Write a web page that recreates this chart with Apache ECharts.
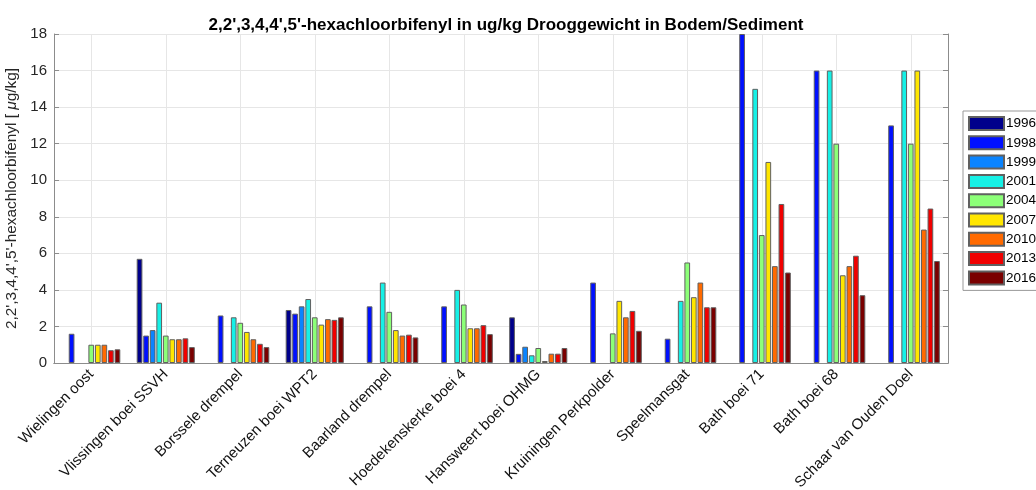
<!DOCTYPE html>
<html>
<head>
<meta charset="utf-8">
<script src="https://cdn.jsdelivr.net/npm/echarts@6/dist/echarts.min.js"></script>
<style>
    html, body { margin: 0; padding: 0; background: #fff; }
    #chart { width: 1036px; height: 490px; }
</style>
</head>
<body>
<div id="chart"></div>
<script>
// 测量点和年份
var locaties = ['Wielingen oost', 'Vlissingen boei SSVH', 'Borssele drempel', 'Terneuzen boei WPT2',
    'Baarland drempel', 'Hoedekenskerke boei 4', 'Hansweert boei OHMG', 'Kruiningen Perkpolder',
    'Speelmansgat', 'Bath boei 71', 'Bath boei 68', 'Schaar van Ouden Doel'];
var jaren = ['1996', '1998', '1999', '2001', '2004', '2007', '2010', '2013', '2016'];

// 每年的数值 (ug/kg)
var v1996 = [null, 5.7, null, 2.9, null, null, 2.5, null, null, null, null, null];
var v1998 = [1.6, 1.5, 2.6, 2.7, 3.1, 3.1, 0.5, 4.4, 1.33, 18, 16, 13];
var v1999 = [null, 1.8, null, 3.1, null, null, 0.89, null, null, null, null, null];
var v2001 = [null, 3.3, 2.5, 3.5, 4.4, 4.0, 0.42, null, 3.4, 15, 16, 16];
var v2004 = [1.0, 1.5, 2.2, 2.5, 2.8, 3.2, 0.82, 1.62, 5.5, 7.0, 12, 12];
var v2007 = [1.0, 1.3, 1.7, 2.1, 1.8, 1.9, 0.11, 3.4, 3.6, 11, 4.8, 16];
var v2010 = [1.0, 1.3, 1.3, 2.4, 1.5, 1.9, 0.51, 2.5, 4.4, 5.3, 5.3, 7.3];
var v2013 = [0.7, 1.35, 1.05, 2.36, 1.55, 2.07, 0.51, 2.85, 3.05, 8.7, 5.87, 8.45];
var v2016 = [0.75, 0.87, 0.87, 2.5, 1.4, 1.58, 0.82, 1.76, 3.05, 4.95, 3.71, 5.58];
var waarden = [v1996, v1998, v1999, v2001, v2004, v2007, v2010, v2013, v2016];

var kleuren = ['#00008B', '#0010FF', '#0A84FF', '#16F0E6', '#8CFF78', '#FFE600', '#FF6A00', '#F00000', '#7A0000'];

var font = "'Liberation Sans', Arial, sans-serif";
var axisColor = '#8c8c8c';
var gridColor = '#e6e6e6';

var myChart = echarts.init(document.getElementById('chart'));

var series = [];
for (var i = 0; i < jaren.length; i++) {
    series.push({
        name: jaren[i],
        type: 'bar',
        data: waarden[i],
        barCategoryGap: '22%',
        barGap: '15%',
        itemStyle: {
            color: kleuren[i],
            borderColor: '#606060',
            borderWidth: 1
        }
    });
}
// 竖直网格线: 放在类别中心 (用一个空的折线系列承载 markLine)
series.push({
    name: 'raster',
    type: 'line',
    data: [],
    silent: true,
    markLine: {
        silent: true,
        symbol: 'none',
        z: 1,
        animation: false,
        label: { show: false },
        lineStyle: { color: gridColor, type: 'solid', width: 1 },
        data: locaties.map(function (n) { return { xAxis: n }; })
    }
});

var option = {
    animation: false,
    textStyle: { fontFamily: font },
    title: {
        text: "2,2',3,4,4',5'-hexachloorbifenyl in ug/kg Drooggewicht in Bodem/Sediment",
        left: 501,
        textAlign: 'center',
        top: 12,
        textStyle: { fontSize: 17, fontWeight: 'bold', color: '#000', fontFamily: font }
    },
    legend: {
        orient: 'vertical',
        left: 963,
        top: 111,
        padding: [5, 20, 5, 5],
        itemWidth: 35,
        itemHeight: 13,
        itemGap: 4.3,
        icon: 'rect',
        borderColor: '#999',
        borderWidth: 1,
        textStyle: { fontSize: 13.5, color: '#000', padding: [0, 0, 0, -3] },
        data: jaren
    },
    grid: { left: 54, right: 88, top: 34, bottom: 127, containLabel: false, outerBoundsMode: 'none' },
    xAxis: [
        {
            type: 'category',
            position: 'bottom',
            data: locaties,
            axisLine: { lineStyle: { color: axisColor } },
            axisTick: { show: false },
            axisLabel: { rotate: 45, fontSize: 15, color: '#111', margin: 9 },
            splitLine: { show: false }
        },
        {
            type: 'category',
            position: 'top',
            data: locaties,
            axisLine: { lineStyle: { color: axisColor } },
            axisTick: { inside: true, alignWithLabel: true, length: 5, lineStyle: { color: axisColor } },
            axisLabel: { show: false },
            splitLine: { show: false }
        }
    ],
    yAxis: [
        {
            type: 'value',
            min: 0,
            max: 18,
            interval: 2,
            position: 'left',
            name: "2,2',3,4,4',5'-hexachloorbifenyl [ {i|μ}g/kg]",
            nameLocation: 'middle',
            nameGap: 28,
            nameTextStyle: {
                fontSize: 15.4, color: '#262626',
                rich: { i: { fontStyle: 'italic', fontSize: 15.4, color: '#262626' } }
            },
            axisLine: { show: true, lineStyle: { color: axisColor } },
            axisTick: { show: true, inside: true, length: 5, lineStyle: { color: axisColor } },
            axisLabel: { fontSize: 15, color: '#262626', margin: 7 },
            splitLine: { show: true, lineStyle: { color: gridColor } }
        },
        {
            type: 'value',
            min: 0,
            max: 18,
            interval: 2,
            position: 'right',
            axisLine: { show: true, lineStyle: { color: axisColor } },
            axisTick: { show: true, inside: true, length: 5, lineStyle: { color: axisColor } },
            axisLabel: { show: false },
            splitLine: { show: false }
        }
    ],
    series: series
};

myChart.setOption(option);
</script>
</body>
</html>
